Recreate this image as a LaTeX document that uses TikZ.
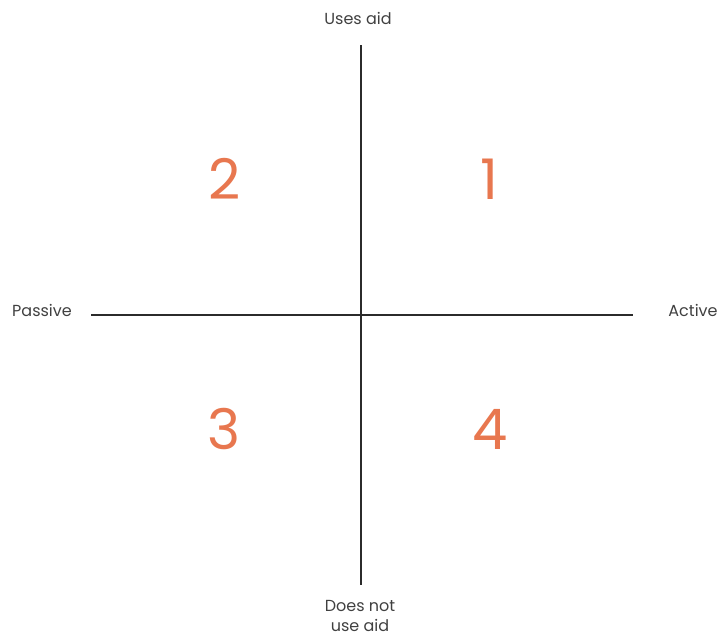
\documentclass[tikz,border=0pt]{standalone}
\usepackage{fontspec}
\setmainfont{Poppins}
\definecolor{numorange}{HTML}{E8774F}
\definecolor{axisgray}{HTML}{2B2B2B}
\definecolor{labelgray}{HTML}{404040}
\begin{document}
\begin{tikzpicture}[x=0.75pt,y=-0.75pt,
  axisline/.style={draw=axisgray,line width=1.1pt},
  axlabel/.style={text=labelgray,font=\fontsize{12}{15.5}\selectfont,inner sep=0pt,align=center},
  quadnum/.style={text=numorange,font=\fontsize{42}{44}\selectfont,inner sep=0pt}]
\useasboundingbox (0,0) rectangle (721,637);
\coordinate (vt) at (361,45);
\coordinate (vb) at (361,585);
\coordinate (hl) at (91,315);
\coordinate (hr) at (633,315);
\draw[axisline] (vt) -- (vb);
\draw[axisline] (hl) -- (hr);
\node[axlabel] (uses) at (358,18) {Uses aid};
\node[axlabel] (passive) at (42,310) {Passive};
\node[axlabel] (active) at (693,310) {Active};
\node[axlabel] (doesnot) at (360,616) {Does not\\use aid};
\node[quadnum] (q2) at (225,179) {2};
\node[quadnum] (q1) at (489,179) {1};
\node[quadnum] (q3) at (224,429) {3};
\node[quadnum] (q4) at (490,429) {4};
\end{tikzpicture}
\end{document}
